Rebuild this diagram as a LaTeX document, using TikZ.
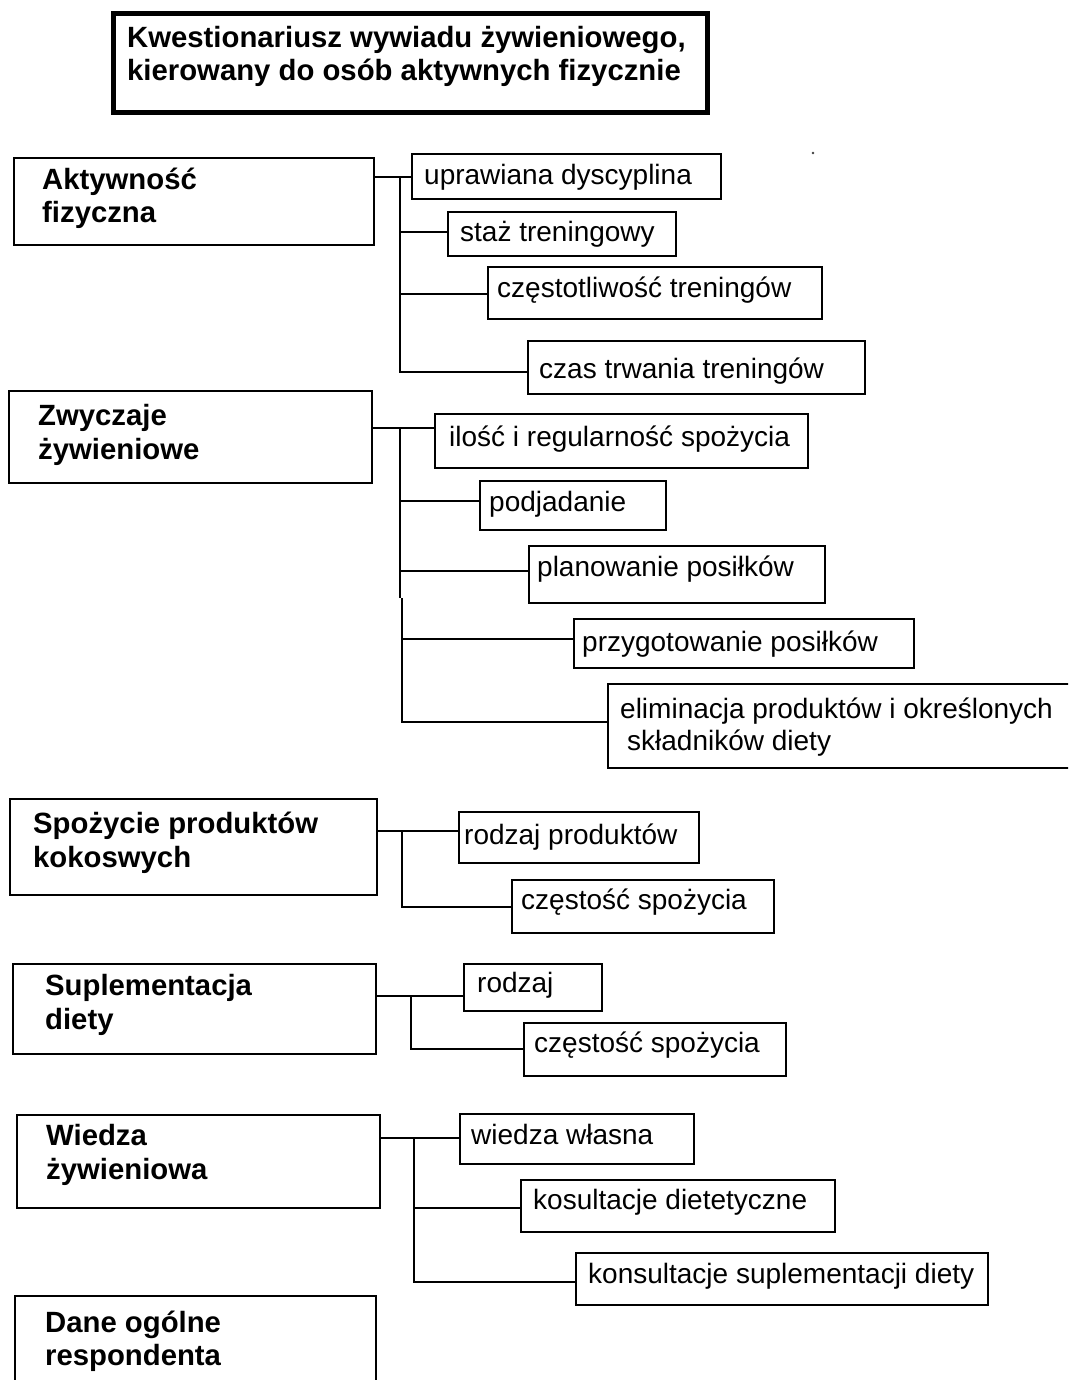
\documentclass[tikz,border=0pt]{standalone}
\usepackage{fontspec}
\setmainfont{Liberation Sans}
\begin{document}
\begin{tikzpicture}[x=1pt,y=-1pt,
  box/.style={draw, line width=1.7pt, inner sep=0pt, anchor=north west},
  lbox/.style={box, line width=2pt},
  tbox/.style={box, line width=5pt},
  rtxt/.style={anchor=base west, inner sep=0pt, font=\fontsize{28}{32}\selectfont},
  btxt/.style={anchor=base west, inner sep=0pt, font=\fontsize{29.3}{33}\selectfont\bfseries},
  conn/.style={line width=2pt}]
\useasboundingbox (0,0) rectangle (1068,1380);
\clip (0,0) rectangle (1068,1380);
\fill[white] (0,0) rectangle (1068,1380);

% title
\node[tbox, minimum width=594.5pt, minimum height=99pt] (T) at (110.5,11) {};
\node[btxt] (T1) at (127,48) {Kwestionariusz wywiadu żywieniowego,};
\node[btxt] (T2) at (127,81) {kierowany do osób aktywnych fizycznie};

% left boxes
\node[lbox, minimum width=360pt, minimum height=87pt] (A) at (13,157) {};
\node[btxt] (A1) at (42,190) {Aktywność};
\node[btxt] (A2) at (42,223) {fizyczna};

\node[lbox, minimum width=363pt, minimum height=92pt] (Z) at (8,390) {};
\node[btxt] (Z1) at (38,425) {Zwyczaje};
\node[btxt] (Z2) at (38,459) {żywieniowe};

\node[lbox, minimum width=367pt, minimum height=96pt] (S) at (9,798) {};
\node[btxt] (S1) at (33,833) {Spożycie produktów};
\node[btxt] (S2) at (33,867) {kokoswych};

\node[lbox, minimum width=363pt, minimum height=90pt] (P) at (12,963) {};
\node[btxt] (P1) at (45,995) {Suplementacja};
\node[btxt] (P2) at (45,1029) {diety};

\node[lbox, minimum width=363pt, minimum height=93pt] (W) at (16,1114) {};
\node[btxt] (W1) at (46,1145) {Wiedza};
\node[btxt] (W2) at (46,1179) {żywieniowa};

\node[lbox, minimum width=361pt, minimum height=125pt] (D) at (14,1295) {};
\node[btxt] (D1) at (45,1332) {Dane ogólne};
\node[btxt] (D2) at (45,1365) {respondenta};

% right boxes group 1
\node[box, minimum width=309pt, minimum height=45pt] (a1) at (411,153) {};
\node[rtxt] (a1t) at (424,185) {uprawiana dyscyplina};
\node[box, minimum width=228pt, minimum height=44pt] (a2) at (447,211) {};
\node[rtxt] (a2t) at (460,241) {staż treningowy};
\node[box, minimum width=334pt, minimum height=52pt] (a3) at (487,266) {};
\node[rtxt] (a3t) at (497,297) {częstotliwość treningów};
\node[box, minimum width=337pt, minimum height=53pt] (a4) at (527,340) {};
\node[rtxt] (a4t) at (539,378) {czas trwania treningów};

% group 2
\node[box, minimum width=373pt, minimum height=54pt] (z1) at (434,413) {};
\node[rtxt] (z1t) at (449,446) {ilość i regularność spożycia};
\node[box, minimum width=186pt, minimum height=49pt] (z2) at (479,480) {};
\node[rtxt] (z2t) at (489,511) {podjadanie};
\node[box, minimum width=296pt, minimum height=57pt] (z3) at (528,545) {};
\node[rtxt] (z3t) at (537,576) {planowanie posiłków};
\node[box, minimum width=340pt, minimum height=49pt] (z4) at (573,618) {};
\node[rtxt] (z4t) at (582,651) {przygotowanie posiłków};
\node[box, minimum width=480pt, minimum height=84pt] (z5) at (607,683) {};
\node[rtxt] (z5t) at (620,718) {eliminacja produktów i określonych};
\node[rtxt] (z5u) at (627,750) {składników diety};

% group 3
\node[box, minimum width=240pt, minimum height=51pt] (s1) at (458,811) {};
\node[rtxt] (s1t) at (464,844) {rodzaj produktów};
\node[box, minimum width=262pt, minimum height=53pt] (s2) at (511,879) {};
\node[rtxt] (s2t) at (521,909) {częstość spożycia};

% group 4
\node[box, minimum width=138pt, minimum height=47pt] (p1) at (463,963) {};
\node[rtxt] (p1t) at (477,992) {rodzaj};
\node[box, minimum width=262pt, minimum height=53pt] (p2) at (523,1022) {};
\node[rtxt] (p2t) at (534,1052) {częstość spożycia};

% group 5
\node[box, minimum width=234pt, minimum height=50pt] (w1) at (459,1113) {};
\node[rtxt] (w1t) at (471,1144) {wiedza własna};
\node[box, minimum width=314pt, minimum height=52pt] (w2) at (520,1179) {};
\node[rtxt] (w2t) at (533,1209) {kosultacje dietetyczne};
\node[box, minimum width=412pt, minimum height=52pt] (w3) at (575,1252) {};
\node[rtxt] (w3t) at (588,1283) {konsultacje suplementacji diety};

% connectors group 1
\coordinate (gA0) at (400,177);
\coordinate (gA2) at (400,232);
\coordinate (gA3) at (400,294);
\coordinate (gA4) at (400,372);
\draw[conn] (A.east |- gA0) -- (gA0 -| a1.west);
\draw[conn] (gA0) -- (gA4) -- (gA4 -| a4.west);
\draw[conn] (gA2) -- (gA2 -| a2.west);
\draw[conn] (gA3) -- (gA3 -| a3.west);

% connectors group 2
\coordinate (gZ0) at (400,428);
\coordinate (gZ2) at (400,501);
\coordinate (gZ3) at (400,571);
\coordinate (gZj1) at (400,598);
\coordinate (gZj2) at (402,598);
\coordinate (gZ4) at (402,639);
\coordinate (gZ5) at (402,722);
\draw[conn] (Z.east |- gZ0) -- (gZ0 -| z1.west);
\draw[conn] (gZ0) -- (gZj1);
\draw[conn] (gZj2) -- (gZ5) -- (gZ5 -| z5.west);
\draw[conn] (gZ2) -- (gZ2 -| z2.west);
\draw[conn] (gZ3) -- (gZ3 -| z3.west);
\draw[conn] (gZ4) -- (gZ4 -| z4.west);

% connectors group 3
\coordinate (gS0) at (402,831);
\coordinate (gS1) at (402,907);
\draw[conn] (S.east |- gS0) -- (gS0 -| s1.west);
\draw[conn] (gS0) -- (gS1) -- (gS1 -| s2.west);

% connectors group 4
\coordinate (gP0) at (411,996);
\coordinate (gP1) at (411,1049);
\draw[conn] (P.east |- gP0) -- (gP0 -| p1.west);
\draw[conn] (gP0) -- (gP1) -- (gP1 -| p2.west);

% connectors group 5
\coordinate (gW0) at (414,1138);
\coordinate (gW2) at (414,1208);
\coordinate (gW3) at (414,1282);
\draw[conn] (W.east |- gW0) -- (gW0 -| w1.west);
\draw[conn] (gW0) -- (gW3) -- (gW3 -| w3.west);
\draw[conn] (gW2) -- (gW2 -| w2.west);

% stray dot
\fill[black!75] (813,153) circle (1.3pt);
\end{tikzpicture}
\end{document}
